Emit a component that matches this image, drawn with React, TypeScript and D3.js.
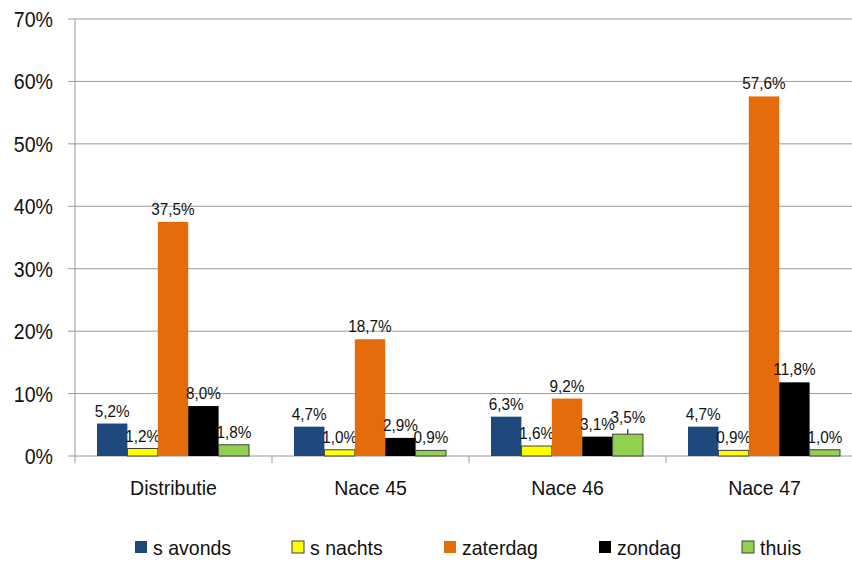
import React from "react";
import * as d3 from "d3";

const categories = ["Distributie", "Nace 45", "Nace 46", "Nace 47"];
const seriesNames = ["s avonds", "s nachts", "zaterdag", "zondag", "thuis"];
const seriesColors = ["#1F497D", "#FFFF00", "#E46C0A", "#000000", "#92D050"];
const seriesStrokes = ["none", "#404040", "none", "none", "#404040"];
const sAvonds = [5.2, 4.7, 6.3, 4.7];
const sNachts = [1.2, 1.0, 1.6, 0.9];
const zaterdag = [37.5, 18.7, 9.2, 57.6];
const zondag = [8.0, 2.9, 3.1, 11.8];
const thuis = [1.8, 0.9, 3.5, 1.0];
const yTicks = [0, 10, 20, 30, 40, 50, 60, 70];

const allSeries = [sAvonds, sNachts, zaterdag, zondag, thuis];

const width = 852;
const height = 561;
const left = 75;
const top = 19;
const bottom = 456;
const catWidth = 197;

// slightly condensed text, like the original's narrow font
function T(props: { x: number; y: number; size: number; sx: number; anchor?: string; children: React.ReactNode }) {
  return (
    <text
      transform={`translate(${props.x},${props.y}) scale(${props.sx},1)`}
      fontSize={props.size}
      textAnchor={props.anchor || "start"}
      fill="#111"
    >
      {props.children}
    </text>
  );
}

export default function App() {
  const x = d3
    .scaleBand<string>()
    .domain(categories)
    .range([left, left + catWidth * categories.length])
    .padding(0);
  const inner = d3
    .scaleBand<string>()
    .domain(seriesNames)
    .range([22, 174])
    .padding(0);
  const y = d3.scaleLinear().domain([0, 70]).range([bottom, top]);
  const fmt = (v: number) => v.toFixed(1).replace(".", ",") + "%";
  const legendX = [135, 292, 444, 599, 742];

  return (
    <svg
      width={width}
      height={height}
      style={{ position: "absolute", left: 0, top: 0, fontFamily: "'Liberation Sans', Arial, sans-serif" }}
    >
      <rect width={width} height={height} fill="#fff" />
      {yTicks.map((t) => (
        <g key={t}>
          <line x1={68} x2={width} y1={y(t)} y2={y(t)} stroke="#9a9a9a" strokeWidth={1} />
          <T x={53} y={y(t) + 8} size={22.5} sx={0.87} anchor="end">
            {t}%
          </T>
        </g>
      ))}
      <line x1={left} x2={left} y1={top} y2={bottom} stroke="#9a9a9a" />
      {categories.map((c) => (
        <line key={"t" + c} x1={x(c)!} x2={x(c)!} y1={bottom} y2={bottom + 7} stroke="#9a9a9a" />
      ))}
      {categories.map((c) => (
        <T key={"c" + c} x={x(c)! + catWidth / 2} y={495} size={21} sx={0.93} anchor="middle">
          {c}
        </T>
      ))}
      {allSeries.map((vals, s) =>
        vals.map((v, i) => {
          const bx = x(categories[i])! + inner(seriesNames[s])!;
          const bw = inner.bandwidth();
          const special = s === 4 && i === 2;
          const off = special ? 11 : 7;
          return (
            <g key={s + "-" + i}>
              <rect
                x={bx}
                y={y(v)}
                width={bw}
                height={bottom - y(v)}
                fill={seriesColors[s]}
                stroke={seriesStrokes[s]}
                strokeWidth={1}
              />
              {special && (
                <line x1={bx + bw / 2} x2={bx + bw / 2} y1={y(v)} y2={y(v) - 5} stroke="#000" />
              )}
              <T x={bx + bw / 2} y={y(v) - off} size={17} sx={0.9} anchor="middle">
                {fmt(v)}
              </T>
            </g>
          );
        })
      )}
      {seriesNames.map((n, s) => (
        <g key={"l" + n}>
          <rect
            x={legendX[s]}
            y={541}
            width={12}
            height={12}
            fill={seriesColors[s]}
            stroke={seriesStrokes[s]}
          />
          <T x={legendX[s] + 18} y={555} size={21} sx={0.93}>
            {n}
          </T>
        </g>
      ))}
    </svg>
  );
}
